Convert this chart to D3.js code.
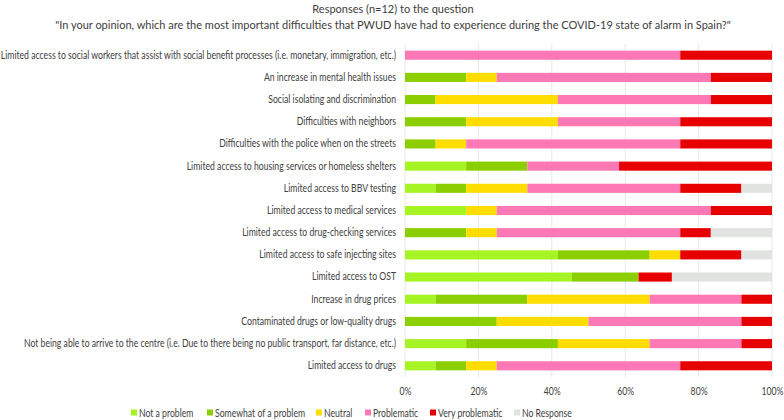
<!DOCTYPE html>
<html><head><meta charset="utf-8">
<script src="https://cdn.jsdelivr.net/npm/d3@7"></script>
<style>body{margin:0;background:#fff}svg{display:block}text{font-family:Lato,"Open Sans",sans-serif;fill:#404040}</style>
</head><body><div id="chart"></div>
<script>
const categories = [
 "Limited access to social workers that assist with social benefit processes (i.e. monetary, immigration, etc.)",
 "An increase in mental health issues",
 "Social isolating and discrimination",
 "Difficulties with neighbors",
 "Difficulties with the police when on the streets",
 "Limited access to housing services or homeless shelters",
 "Limited access to BBV testing ",
 "Limited access to medical services",
 "Limited access to drug-checking services",
 "Limited access to safe injecting sites",
 "Limited access to OST",
 "Increase in drug prices",
 "Contaminated drugs or low-quality drugs",
 "Not being able to arrive to the centre (i.e. Due to there being no public transport, far distance, etc.)",
 "Limited access to drugs"
];
const seriesNames = ["Not a problem","Somewhat of a problem","Neutral","Problematic","Very problematic","No Response"];
const seriesColors = ["#a6f423","#8ccf00","#ffdd00","#ff78b6","#e60000","#e1e3e1"];
const notAProblem   = [0, 0, 0, 0, 0, 16.67, 8.33, 16.67, 0, 41.67, 45.45, 8.33, 0, 16.67, 8.33];
const somewhat      = [0, 16.67, 8.33, 16.67, 8.33, 16.67, 8.33, 0, 16.67, 25, 18.18, 25, 25, 25, 8.33];
const neutral       = [0, 8.33, 33.33, 25, 8.33, 0, 16.67, 8.33, 8.33, 8.33, 0, 33.33, 25, 25, 8.33];
const problematic   = [75, 58.33, 41.67, 33.33, 58.33, 25, 41.67, 58.33, 50, 0, 0, 25, 41.67, 25, 50];
const veryProblem   = [25, 16.67, 16.67, 25, 25, 41.67, 16.67, 16.67, 8.33, 16.67, 9.09, 8.33, 8.33, 8.33, 25];
const noResponse    = [0, 0, 0, 0, 0, 0, 8.33, 0, 16.67, 8.33, 27.27, 0, 0, 0, 0];
const tickValues = [0, 0.2, 0.4, 0.6, 0.8, 1];
const titleLines = ["Responses (n=12) to the question",
 "\"In your opinion, which are the most important difficulties that PWUD have had to experience during the COVID-19 state of alarm in Spain?\""];

const W = 784, H = 420;
const margin = {left: 405, right: 12, top: 44, bottom: 43};
const svg = d3.select("#chart").append("svg").attr("width", W).attr("height", H);

const rows = categories.map((c, i) => ({cat: c, vals: [notAProblem[i], somewhat[i], neutral[i], problematic[i], veryProblem[i], noResponse[i]]}));
const data = rows.map(r => { const tot = d3.sum(r.vals); const o = {cat: r.cat}; seriesNames.forEach((s, k) => o[s] = r.vals[k] / tot); return o; });
const stacked = d3.stack().keys(seriesNames)(data);

const x = d3.scaleLinear().domain([0, 1]).range([margin.left, W - margin.right]);
const y = d3.scaleBand().domain(categories).range([margin.top, H - margin.bottom]).paddingInner(0.59).paddingOuter(0.3);

// gridlines
svg.append("g").selectAll("line").data(tickValues).join("line")
  .attr("x1", d => x(d)).attr("x2", d => x(d))
  .attr("y1", margin.top).attr("y2", H - margin.bottom)
  .attr("stroke", "#e8e8e8").attr("stroke-width", 1);

svg.append("g").selectAll("g").data(stacked).join("g")
  .attr("fill", (d, i) => seriesColors[i])
  .selectAll("rect").data(d => d).join("rect")
  .attr("x", d => x(d[0])).attr("width", d => Math.max(0, x(d[1]) - x(d[0])))
  .attr("y", d => y(d.data.cat)).attr("height", y.bandwidth());

// category labels
const ya = svg.append("g").attr("transform", `translate(${margin.left - 9},0)`)
  .call(d3.axisLeft(y).tickSize(0).tickPadding(0));
ya.select(".domain").remove();
const yTexts = ya.selectAll("text").style("font-size", "10.5px").attr("fill", "#404040");
const w0 = yTexts.nodes()[0].getComputedTextLength();
const sx = Math.min(1, 396 / w0);
yTexts.attr("transform", `scale(${sx},1)`);

// x axis
const xa = svg.append("g").attr("transform", `translate(0,${H - margin.bottom + 5})`)
  .call(d3.axisBottom(x).tickValues(tickValues).tickFormat(d3.format(".0%")).tickSize(0).tickPadding(6));
xa.select(".domain").remove();
xa.selectAll("text").style("font-size", "10.5px").attr("fill", "#595959")
  .attr("transform", `scale(${sx},1)`);

// title
const tt = svg.append("g").attr("transform", `translate(${W / 2 + 1},0)`);
const titles = tt.selectAll("text").data(titleLines).join("text")
  .attr("x", 0).attr("y", (d, i) => 13 + i * 16).attr("text-anchor", "middle")
  .style("font-size", "11.5px").text(d => d);
const wt = titles.nodes()[1].getComputedTextLength();
const st = Math.min(1, 676 / wt);
titles.attr("transform", `scale(${st},1)`);

// legend
const legendX = [131, 207, 316, 365, 430, 514];
const lg = svg.append("g").selectAll("g").data(seriesNames).join("g")
  .attr("transform", (d, i) => `translate(${legendX[i]},413)`);
lg.append("rect").attr("x", 0).attr("y", -3.5).attr("width", 6).attr("height", 6).attr("fill", (d, i) => seriesColors[i]);
lg.append("text").attr("x", 8 / sx).attr("y", 0).attr("dy", "0.35em").style("font-size", "10.5px")
  .attr("transform", `scale(${sx},1)`).text(d => d);
</script></body></html>
